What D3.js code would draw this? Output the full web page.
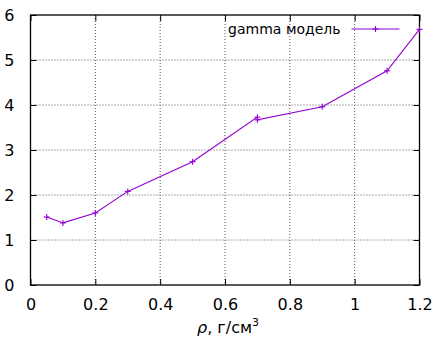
<!DOCTYPE html>
<html>
<head>
<meta charset="utf-8">
<script src="https://cdn.jsdelivr.net/npm/d3@7"></script>
<style>
  body { margin: 0; background: #fff; }
  svg text { font-family: "DejaVu Sans", sans-serif; fill: #000; }
</style>
</head>
<body>
<div id="chart"></div>
<script>
// data
var rho   = [0.05, 0.1, 0.2, 0.3, 0.5, 0.7, 0.7, 0.9, 1.1, 1.2];
var gamma = [1.51, 1.38, 1.60, 2.08, 2.74, 3.73, 3.67, 3.96, 4.76, 5.68];
var xTicks = [0, 0.2, 0.4, 0.6, 0.8, 1, 1.2];
var yTicks = [0, 1, 2, 3, 4, 5, 6];
var seriesName = "gamma модель";

var margin = {left: 30.5, right: 16.5, top: 15, bottom: 53},
    width = 436 - margin.left - margin.right,
    height = 338 - margin.top - margin.bottom;

var svg = d3.select("div#chart").append("svg")
    .attr("width", 436)
    .attr("height", 338)
    .append("g")
    .attr("transform", "translate(" + margin.left + "," + margin.top + ")");

var xScale = d3.scaleLinear().domain([0, 1.2]).range([0, width]);
var yScale = d3.scaleLinear().domain([0, 6]).range([height, 0]);

//grid
svg.append("g").selectAll("line")
    .data(xTicks.slice(1, -1))
    .enter().append("line")
    .attr("x1", function(d) { return xScale(d); })
    .attr("x2", function(d) { return xScale(d); })
    .attr("y1", 0).attr("y2", height)
    .attr("stroke", "#555").attr("stroke-width", 1)
    .attr("stroke-dasharray", "1,2");
svg.append("g").selectAll("line")
    .data(yTicks.slice(1, -1))
    .enter().append("line")
    .attr("y1", function(d) { return yScale(d); })
    .attr("y2", function(d) { return yScale(d); })
    .attr("x1", 0).attr("x2", width)
    .attr("stroke", "#555").attr("stroke-width", 1)
    .attr("stroke-dasharray", "1,2");

//axes (ticks inward, mirrored)
var fmt = function(d) { return String(+d.toFixed(1)); };
var xAxis = d3.axisBottom(xScale).tickValues(xTicks).tickSize(-6).tickPadding(14).tickFormat(fmt);
var yAxis = d3.axisLeft(yScale).tickValues(yTicks).tickSize(-6).tickPadding(16).tickFormat(fmt);

var gx = svg.append("g")
    .attr("transform", "translate(0," + height + ")")
    .call(xAxis);
var gy = svg.append("g").call(yAxis);
svg.append("g").call(d3.axisTop(xScale).tickValues(xTicks).tickSize(-6).tickFormat(""));
svg.append("g").attr("transform", "translate(" + width + ",0)")
    .call(d3.axisRight(yScale).tickValues(yTicks).tickSize(-6).tickFormat(""));

svg.selectAll(".domain").remove();
svg.selectAll(".tick line").attr("stroke", "#000");
gx.selectAll("text").attr("font-size", "16px").attr("dy", "0.71em");
gy.selectAll("text").attr("font-size", "16px").attr("dy", "0.36em");

svg.append("rect")
    .attr("width", width).attr("height", height)
    .attr("fill", "none").attr("stroke", "#000").attr("stroke-width", 1.3);

//line
var pts = rho.map(function(r, i) { return [r, gamma[i]]; });
var line = d3.line()
    .x(function(d) { return xScale(d[0]); })
    .y(function(d) { return yScale(d[1]); });
var color = "#9400d3";

svg.append("path")
    .datum(pts)
    .attr("d", line)
    .attr("fill", "none")
    .attr("stroke", color)
    .attr("stroke-width", 1.1);

function plus(sel) {
    sel.append("line").attr("x1", -3).attr("x2", 3).attr("y1", 0).attr("y2", 0);
    sel.append("line").attr("y1", -3).attr("y2", 3).attr("x1", 0).attr("x2", 0);
    sel.selectAll("line").attr("stroke", color).attr("stroke-width", 1.1);
}
svg.append("g").selectAll("g")
    .data(pts)
    .enter().append("g")
    .attr("transform", function(d) { return "translate(" + xScale(d[0]) + "," + yScale(d[1]) + ")"; })
    .call(plus);

//legend
var leg = svg.append("g").attr("transform", "translate(0,14)");
leg.append("text")
    .attr("x", 310).attr("y", 0).attr("dy", "0.36em")
    .attr("text-anchor", "end")
    .attr("font-size", "14px")
    .text(seriesName);
leg.append("line")
    .attr("x1", 321).attr("x2", 369).attr("y1", 0).attr("y2", 0)
    .attr("stroke", color).attr("stroke-width", 1.1);
leg.append("g").attr("transform", "translate(345,0)").call(plus);

//x label
var xl = svg.append("text")
    .attr("x", width / 2 + 3)
    .attr("y", height + 48)
    .attr("text-anchor", "middle")
    .attr("font-size", "16px");
xl.append("tspan").attr("font-style", "italic").text("ρ");
xl.append("tspan").text(", г/см");
xl.append("tspan").attr("dy", "-7").attr("font-size", "11px").text("3");
</script>
</body>
</html>
